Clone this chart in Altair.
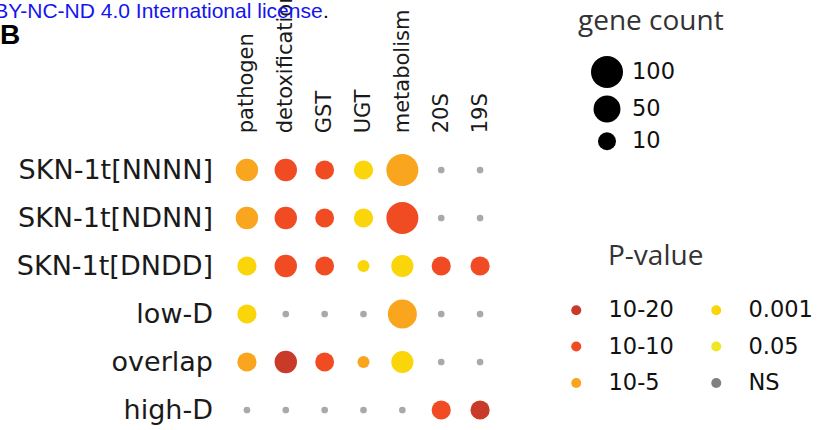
import altair as alt
import pandas as pd

# Gene sets (rows) and functional categories (columns)
rows = ["SKN-1t[NNNN]", "SKN-1t[NDNN]", "SKN-1t[DNDD]", "low-D", "overlap", "high-D"]
cols = ["pathogen", "detoxification", "GST", "UGT", "metabolism", "20S", "19S"]

# Enrichment P-value class per cell
pval_nnnn = ["10-5", "10-10", "10-10", "0.001", "10-5", "NS", "NS"]
pval_ndnn = ["10-5", "10-10", "10-10", "0.001", "10-10", "NS", "NS"]
pval_dndd = ["0.001", "10-10", "10-10", "0.001", "0.001", "10-10", "10-10"]
pval_lowd = ["0.001", "NS", "NS", "NS", "10-5", "NS", "NS"]
pval_overlap = ["10-5", "10-20", "10-10", "10-5", "0.001", "NS", "NS"]
pval_highd = ["NS", "NS", "NS", "NS", "NS", "10-10", "10-20"]

# Number of genes per cell (NS cells are drawn as fixed small dots)
count_nnnn = [24, 24, 12, 13, 100, 0, 0]
count_ndnn = [24, 24, 12, 13, 100, 0, 0]
count_dndd = [13, 24, 12, 2, 23, 13, 13]
count_lowd = [13, 0, 0, 0, 68, 0, 0]
count_overlap = [13, 24, 12, 2, 23, 0, 0]
count_highd = [0, 0, 0, 0, 0, 13, 13]

# P-value classes and colours (legend fills column by column)
pval_levels = ["10-20", "10-10", "10-5", "0.001", "0.05", "NS"]
pval_colors = ["#C93A28", "#F04B23", "#F9A51E", "#F9D50A", "#EEE722", "#808080"]
size_legend_values = [100, 50, 10]

pvals = [pval_nnnn, pval_ndnn, pval_dndd, pval_lowd, pval_overlap, pval_highd]
counts = [count_nnnn, count_ndnn, count_dndd, count_lowd, count_overlap, count_highd]

records = []
for r, pv_row, n_row in zip(rows, pvals, counts):
    for c, pv, n in zip(cols, pv_row, n_row):
        records.append({"group": r, "category": c, "pval": pv, "genes": n})
df = pd.DataFrame(records)

LABEL_FONT = "DejaVu Sans"
TITLE_FONT = "Open Sans"

base = alt.Chart(df).encode(
    x=alt.X(
        "category:N",
        sort=cols,
        title=None,
        scale=alt.Scale(padding=0.5),
        axis=alt.Axis(
            orient="top", labelAngle=-90, labelPadding=18, ticks=False, domain=False,
            labelFont=LABEL_FONT, labelFontSize=21, labelColor="#1a1a1a", labelLimit=400,
        ),
    ),
    y=alt.Y(
        "group:N",
        sort=rows,
        title=None,
        scale=alt.Scale(padding=0.4),
        axis=alt.Axis(
            labelPadding=15, ticks=False, domain=False,
            labelFont=LABEL_FONT, labelFontSize=27, labelColor="#1a1a1a", labelLimit=400,
        ),
    ),
)

significant = base.transform_filter(alt.datum.pval != "NS").mark_circle(opacity=1).encode(
    color=alt.Color(
        "pval:N",
        title=None,
        scale=alt.Scale(domain=pval_levels, range=pval_colors),
        legend=alt.Legend(
            orient="none", legendX=337.5, legendY=148, columns=2, padding=0,
            symbolType="circle", symbolSize=100, symbolStrokeWidth=0, symbolOpacity=1,
            labelFont=LABEL_FONT, labelFontSize=22.5, labelColor="#111111",
            labelOffset=21, columnPadding=31, rowPadding=13.5,
        ),
    ),
    size=alt.Size(
        "genes:Q",
        title=None,
        scale=alt.Scale(type="sqrt", domain=[0, 100], range=[0, 1024]),
        legend=alt.Legend(
            orient="none", legendX=363.5, legendY=-94.8, padding=0,
            values=size_legend_values, symbolType="circle",
            symbolFillColor="#000000", symbolStrokeWidth=0, symbolOpacity=1,
            labelFont=LABEL_FONT, labelFontSize=22.5, labelColor="#111111",
            labelOffset=9, rowPadding=7.5,
        ),
    ),
)

not_significant = base.transform_filter(alt.datum.pval == "NS").mark_circle(
    opacity=1, size=45, color="#A8A9AD"
)


def label(text, x, y, **style):
    return alt.Chart(pd.DataFrame({"t": [text]})).mark_text(
        align="left", baseline="alphabetic", **style
    ).encode(text="t:N", x=alt.value(x), y=alt.value(y))


license_note = label("BY-NC-ND 4.0 International license", -233.3, -132.8,
                     font="Liberation Sans", fontSize=21, color="#1414F0")
license_dot = label(".", 95.5, -132.8, font="Liberation Sans", fontSize=21, color="#000000")
panel_letter = label("B", -227.5, -107.3, font="Liberation Sans", fontSize=28,
                     fontWeight="bold", color="#000000")
size_title = label("gene count", 350.5, -120.8, font=TITLE_FONT, fontSize=28, color="#333333")
color_title = label("P-value", 380.5, 114.2, font=TITLE_FONT, fontSize=28, color="#333333")

chart = alt.layer(
    significant, not_significant, license_note, license_dot, panel_letter, size_title, color_title
).properties(
    width=272,
    height=278.4,
    padding={"left": 227.5, "top": 150.8, "right": 332.5, "bottom": 0.8},
    autosize=alt.AutoSizeParams(type="none"),
).configure_view(strokeWidth=0)

chart.save("out.html", embed_options={"renderer": "svg", "actions": False})
